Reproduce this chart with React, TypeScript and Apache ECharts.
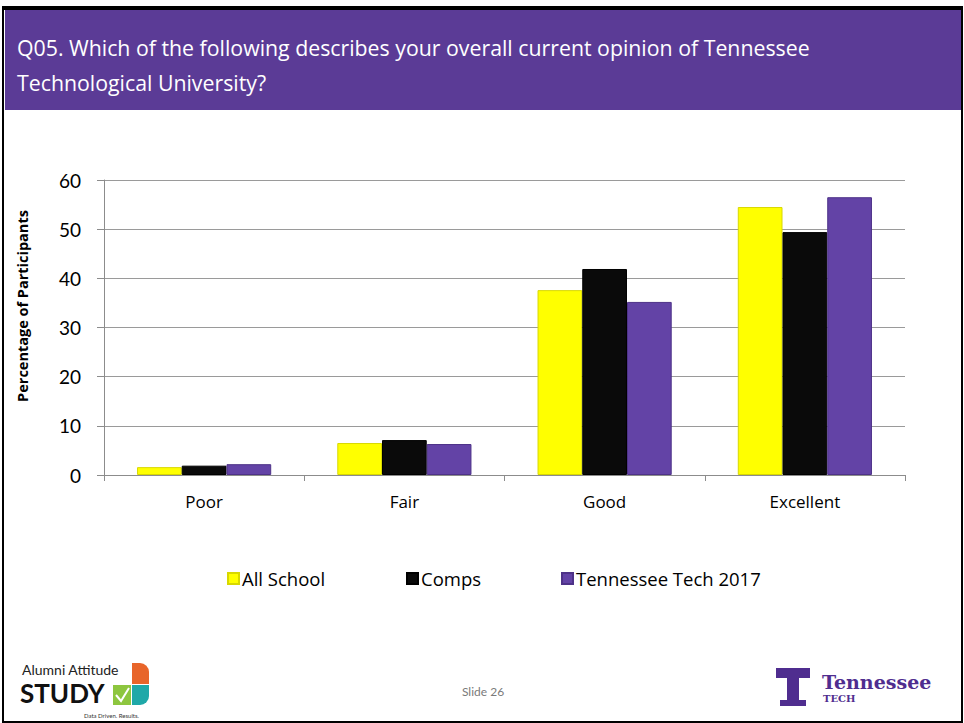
import React, { useEffect, useRef } from "react";
import * as echarts from "echarts";

const categories = ["Poor", "Fair", "Good", "Excellent"];
const allSchool = [1.6, 6.5, 37.6, 54.5];
const comps = [1.9, 7.1, 41.9, 49.4];
const tennesseeTech = [2.2, 6.3, 35.2, 56.5];
const seriesNames = ["All School", "Comps", "Tennessee Tech 2017"];
const titleLines = [
  "Q05. Which of the following describes your overall current opinion of Tennessee",
  "Technological University?",
];
const yAxisTitle = "Percentage of Participants";
const slideLabel = "Slide 26";

const PURPLE = "#5B3B96";

export default function App() {
  const ref = useRef<HTMLDivElement>(null);
  useEffect(() => {
    if (!ref.current) return;
    const chart = echarts.init(ref.current, undefined, { renderer: "svg" });
    const font = "'Open Sans', Lato, sans-serif";
    const lato = "Lato, 'Open Sans', sans-serif";
    const barStyle = (c: string, b: string) => ({ color: c, borderColor: b, borderWidth: 1 });
    chart.setOption({
      animation: false,
      backgroundColor: "#ffffff",
      textStyle: { fontFamily: font },
      grid: { left: 104, right: 59, top: 180, bottom: 248 },
      xAxis: {
        type: "category",
        data: categories,
        axisLine: { lineStyle: { color: "#8c8c8c" } },
        axisTick: { show: true, length: 6, lineStyle: { color: "#8c8c8c" } },
        axisLabel: { fontSize: 17, color: "#000", margin: 18, fontFamily: font },
      },
      yAxis: {
        type: "value",
        min: 0,
        max: 60,
        interval: 10,
        axisLine: { show: true, lineStyle: { color: "#8c8c8c" } },
        axisTick: { show: true, length: 7, lineStyle: { color: "#8c8c8c" } },
        axisLabel: { fontSize: 19, color: "#000", margin: 23, fontFamily: lato },
        splitLine: { lineStyle: { color: "#9a9a9a", width: 1 } },
      },
      legend: [
        { data: [seriesNames[0]], left: 222, top: 564 },
        { data: [seriesNames[1]], left: 401, top: 564 },
        { data: [seriesNames[2]], left: 556, top: 564 },
      ].map((l) => ({
        ...l,
        icon: "rect",
        itemWidth: 11,
        itemHeight: 11,
        itemGap: 3,
        textStyle: { fontSize: 18.5, color: "#000", fontFamily: font, padding: [0, 0, 0, -2] },
      })),
      series: [
        { name: seriesNames[0], type: "bar", data: allSchool, barGap: "0%", barCategoryGap: "33%", itemStyle: barStyle("#FFFF00", "#d8d800") },
        { name: seriesNames[1], type: "bar", data: comps, barGap: "0%", barCategoryGap: "33%", itemStyle: barStyle("#0a0a0a", "#000000") },
        { name: seriesNames[2], type: "bar", data: tennesseeTech, barGap: "0%", barCategoryGap: "33%", itemStyle: barStyle("#6343A6", "#4e3288") },
      ],
      graphic: [
        // slide frame
        { type: "rect", shape: { x: 3, y: 7, width: 959, height: 715 }, style: { fill: "none", stroke: "#000", lineWidth: 2 }, z: 100 },
        { type: "rect", shape: { x: 3, y: 6, width: 959, height: 4 }, style: { fill: "#000" }, z: 100 },
        // header
        { type: "rect", shape: { x: 5, y: 9, width: 956, height: 101 }, style: { fill: PURPLE }, z: 1 },
        { type: "text", x: 17, y: 47, style: { text: titleLines[0], fill: "#fff", font: `21.3px ${font}`, verticalAlign: "middle" }, z: 2 },
        { type: "text", x: 17, y: 82, style: { text: titleLines[1], fill: "#fff", font: `21.3px ${font}`, verticalAlign: "middle" }, z: 2 },
        // y axis title
        { type: "text", x: 22, y: 306, rotation: Math.PI / 2, style: { text: yAxisTitle, fill: "#000", font: `bold 14.5px ${font}`, align: "center", verticalAlign: "middle" } },
        // footer
        { type: "text", x: 483, y: 691, style: { text: slideLabel, fill: "#7a7a7a", font: `12px ${lato}`, align: "center", verticalAlign: "middle" } },
        // Alumni Attitude logo
        { type: "text", x: 22, y: 669, style: { text: "Alumni Attitude", fill: "#222", font: `14px 'Liberation Sans Narrow', ${lato}`, verticalAlign: "middle" } },
        { type: "text", x: 20, y: 693, style: { text: "STUDY", fill: "#111", font: `bold 26px 'Liberation Sans Narrow', ${lato}`, verticalAlign: "middle" } },
        { type: "text", x: 84, y: 715, style: { text: "Data Driven. Results.", fill: "#333", font: `6px ${lato}`, verticalAlign: "middle" } },
        { type: "rect", shape: { x: 132, y: 663, width: 17, height: 21, r: [0, 9, 0, 0] }, style: { fill: "#E8652A" } },
        { type: "rect", shape: { x: 132, y: 685, width: 17, height: 20, r: [0, 0, 9, 0] }, style: { fill: "#1FA8A8" } },
        { type: "rect", shape: { x: 113, y: 685, width: 18, height: 20 }, style: { fill: "#8DC63F" } },
        { type: "polyline", shape: { points: [[116, 695], [121, 701], [129, 688]] }, style: { stroke: "#fff", lineWidth: 2, fill: "none" } },
        // Tennessee Tech logo
        { type: "polygon", shape: { points: [[776, 668], [810, 668], [810, 678], [799, 678], [799, 700], [806, 700], [806, 706], [780, 706], [780, 700], [787, 700], [787, 678], [776, 678]] }, style: { fill: "#4F2D8F" } },
        { type: "text", x: 822, y: 682, style: { text: "Tennessee", fill: "#4F2D8F", font: `bold 19px 'DejaVu Serif', serif`, verticalAlign: "middle" } },
        { type: "text", x: 823, y: 698, style: { text: "TECH", fill: "#4F2D8F", font: `bold 10px 'DejaVu Serif', serif`, verticalAlign: "middle" } },
      ],
    });
    return () => chart.dispose();
  }, []);
  return <div ref={ref} style={{ position: "fixed", left: 0, top: 0, width: 964, height: 723 }} />;
}
